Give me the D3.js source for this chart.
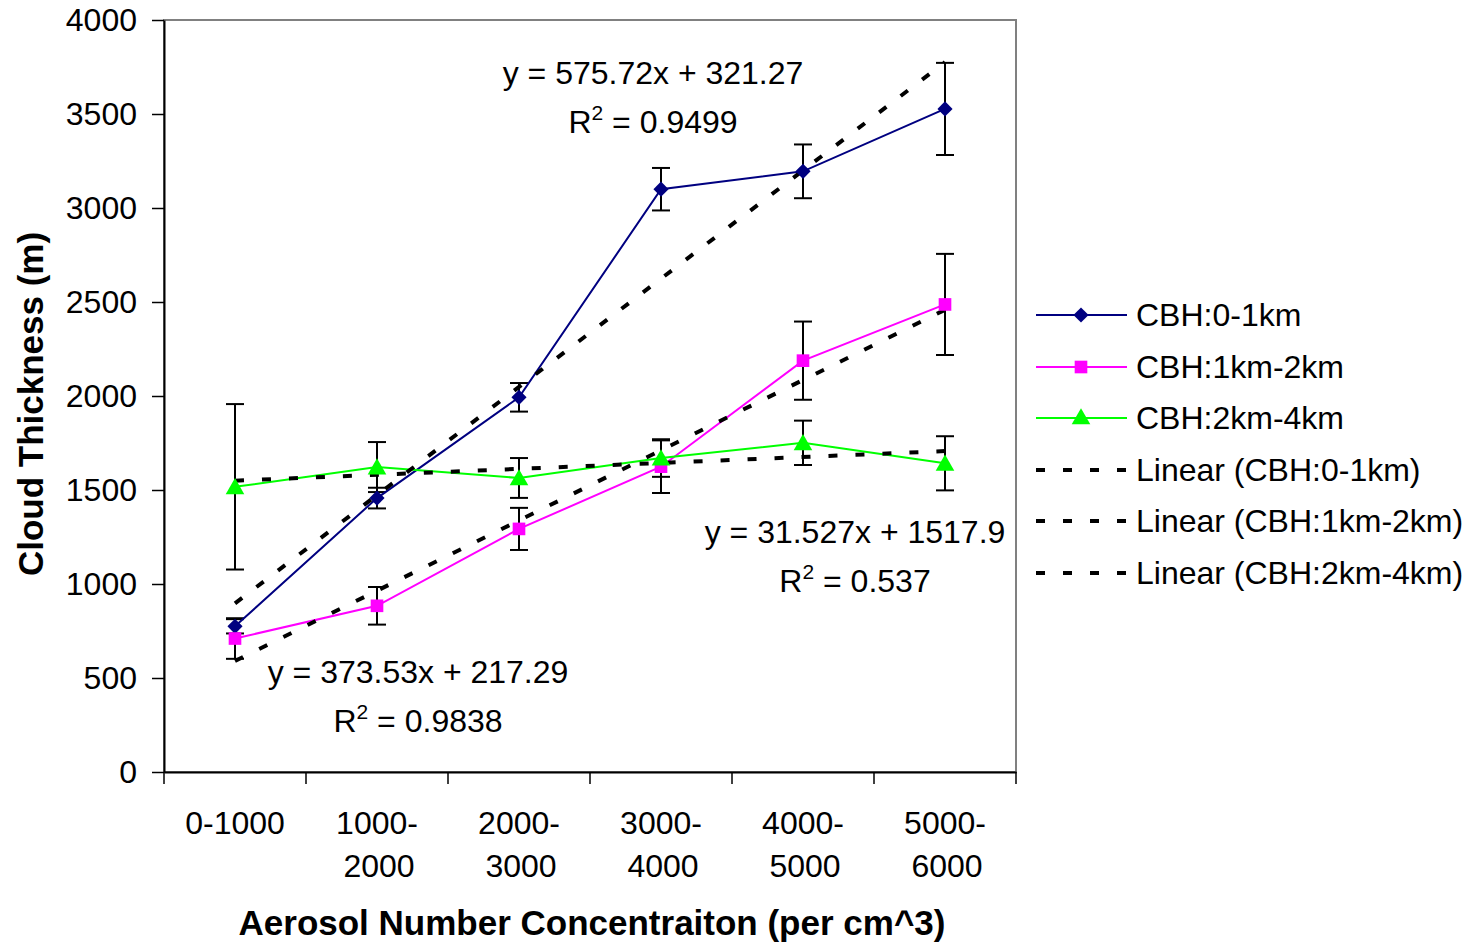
<!DOCTYPE html>
<html>
<head>
<meta charset="utf-8">
<script src="https://cdn.jsdelivr.net/npm/d3@7"></script>
<style>
  html, body { margin: 0; padding: 0; background: #fff; }
  svg { display: block; font-family: "Liberation Sans", Arial, sans-serif; }
</style>
</head>
<body>
<svg id="chart" width="1484" height="943"></svg>
<script>
// ---- data ----
const categories = ["0-1000", "1000-2000", "2000-3000", "3000-4000", "4000-5000", "5000-6000"];
const categoryLines = [["0-1000"], ["1000-", "2000"], ["2000-", "3000"], ["3000-", "4000"], ["4000-", "5000"], ["5000-", "6000"]];
const seriesNames = ["CBH:0-1km", "CBH:1km-2km", "CBH:2km-4km"];
const cbh0to1 = [775, 1457, 1993, 3100, 3195, 3527];
const cbh0to1Err = [38, 55, 76, 113, 143, 245];
const cbh1to2 = [710, 884, 1293, 1624, 2188, 2487];
const cbh1to2Err = [108, 100, 112, 140, 208, 269];
const cbh2to4 = [1517, 1622, 1564, 1670, 1751, 1642];
const cbh2to4Err = [440, 133, 106, 100, 118, 144];
const trendSlopes = [575.72, 373.53, 31.527];
const trendIntercepts = [321.27, 217.29, 1517.9];
const trendEquations = ["y = 575.72x + 321.27", "y = 373.53x + 217.29", "y = 31.527x + 1517.9"];
const trendR2 = ["0.9499", "0.9838", "0.537"];
const yTicks = [0, 500, 1000, 1500, 2000, 2500, 3000, 3500, 4000];

const colors = ["#000080", "#FF00FF", "#00FF00"];
const markers = [d3.symbolSquare, d3.symbolSquare, d3.symbolTriangle];
const markerRot = [45, 0, 0];
const markerSizes = [115, 160, 150];
const values = [cbh0to1, cbh1to2, cbh2to4];
const errs = [cbh0to1Err, cbh1to2Err, cbh2to4Err];

// ---- layout ----
const L = 164, R = 1016, T = 20, B = 772;
const svg = d3.select("#chart");

const x = d3.scaleBand().domain(categories).range([L, R]).paddingInner(0).paddingOuter(0);
const xc = c => x(c) + x.bandwidth() / 2;
const xi = i => xc(categories[i]);
const y = d3.scaleLinear().domain([0, 4000]).range([B, T]);

// plot area border
svg.append("rect").attr("x", L).attr("y", T).attr("width", R - L).attr("height", B - T)
  .attr("fill", "none").attr("stroke", "#808080").attr("stroke-width", 2);

// y axis
const yAxis = svg.append("g").attr("transform", `translate(${L},0)`)
  .call(d3.axisLeft(y).tickValues(yTicks).tickFormat(d3.format("d")).tickSize(12).tickSizeOuter(0).tickPadding(15));
yAxis.select(".domain").attr("stroke", "#000").attr("stroke-width", 2);
yAxis.selectAll(".tick line").attr("stroke", "#000").attr("stroke-width", 1.5);
yAxis.selectAll(".tick text").attr("font-size", 32).attr("fill", "#000")
  .attr("font-family", "Liberation Sans, Arial, sans-serif");

// x axis
const xAxis = svg.append("g").attr("transform", `translate(0,${B})`)
  .call(d3.axisBottom(x).tickSize(0).tickFormat(""));
xAxis.select(".domain").attr("stroke", "#000").attr("stroke-width", 2);
const bounds = categories.map(c => x(c)).concat([R]);
svg.append("g").selectAll("line").data(bounds).join("line")
  .attr("x1", d => d).attr("x2", d => d).attr("y1", B).attr("y2", B + 12)
  .attr("stroke", "#000").attr("stroke-width", 1.5);
const xl = svg.append("g").attr("font-size", 32).attr("fill", "#000").attr("text-anchor", "middle");
categoryLines.forEach((lines, i) => {
  lines.forEach((t, j) => {
    xl.append("text").attr("x", xc(categories[i]) + (j === 1 ? 2 : 0)).attr("y", 834 + j * 43).text(t);
  });
});

// axis titles
svg.append("text").attr("x", 592).attr("y", 935).attr("text-anchor", "middle")
  .attr("font-size", 35).attr("font-weight", "bold").text("Aerosol Number Concentraiton (per cm^3)");
svg.append("text").attr("transform", "translate(43,404) rotate(-90)").attr("text-anchor", "middle")
  .attr("font-size", 35).attr("font-weight", "bold").text("Cloud Thickness (m)");

// error bars
values.forEach((vals, s) => {
  const g = svg.append("g").attr("stroke", "#000").attr("stroke-width", 2);
  vals.forEach((v, i) => {
    const cx = xc(categories[i]);
    const e = errs[s][i];
    g.append("line").attr("x1", cx).attr("x2", cx).attr("y1", y(v - e)).attr("y2", y(v + e));
    g.append("line").attr("x1", cx - 9).attr("x2", cx + 9).attr("y1", y(v - e)).attr("y2", y(v - e));
    g.append("line").attr("x1", cx - 9).attr("x2", cx + 9).attr("y1", y(v + e)).attr("y2", y(v + e));
  });
});

// series lines
const line = d3.line().x((d, i) => xc(categories[i])).y(d => y(d));
values.forEach((vals, s) => {
  svg.append("path").datum(vals).attr("d", line).attr("fill", "none")
    .attr("stroke", colors[s]).attr("stroke-width", 2);
});

// trendlines
trendSlopes.forEach((m, s) => {
  const b = trendIntercepts[s];
  const x1 = 1, x2 = categories.length;
  svg.append("line")
    .attr("x1", xi(x1 - 1)).attr("y1", y(m * x1 + b))
    .attr("x2", xi(x2 - 1)).attr("y2", y(m * x2 + b))
    .attr("stroke", "#000").attr("stroke-width", 4).attr("stroke-dasharray", "9,18");
});

// markers
values.forEach((vals, s) => {
  svg.append("g").selectAll("path").data(vals).join("path")
    .attr("transform", (d, i) => `translate(${xc(categories[i])},${y(d) + (s === 2 ? 2 : 0)}) rotate(${markerRot[s]})`)
    .attr("d", d3.symbol().type(markers[s]).size(markerSizes[s]))
    .attr("fill", colors[s]);
});

// trend labels
const labelPos = [[653, 84, 133], [418, 683, 732], [855, 543, 592]];
trendEquations.forEach((eq, s) => {
  const [cx, y1, y2] = labelPos[s];
  svg.append("text").attr("x", cx).attr("y", y1).attr("text-anchor", "middle")
    .attr("font-size", 32).text(eq);
  const t = svg.append("text").attr("x", cx).attr("y", y2).attr("text-anchor", "middle").attr("font-size", 32);
  t.append("tspan").text("R");
  t.append("tspan").attr("font-size", 21).attr("dy", -13).text("2");
  t.append("tspan").attr("dy", 13).text(" = " + trendR2[s]);
});

// legend
const legendY = [315, 367, 418, 470, 521, 573];
const legendLabels = seriesNames.concat(seriesNames.map(n => `Linear (${n})`));
const lg = svg.append("g");
legendLabels.forEach((lab, k) => {
  const ly = legendY[k];
  if (k < 3) {
    lg.append("line").attr("x1", 1036).attr("x2", 1127).attr("y1", ly).attr("y2", ly)
      .attr("stroke", colors[k]).attr("stroke-width", 2);
    lg.append("path").attr("transform", `translate(1081,${ly + (k === 2 ? 1 : 0)}) rotate(${markerRot[k]})`)
      .attr("d", d3.symbol().type(markers[k]).size(markerSizes[k])).attr("fill", colors[k]);
  } else {
    lg.append("line").attr("x1", 1036).attr("x2", 1127).attr("y1", ly).attr("y2", ly)
      .attr("stroke", "#000").attr("stroke-width", 4).attr("stroke-dasharray", "9,18");
  }
  lg.append("text").attr("x", 1136).attr("y", ly + 11).attr("font-size", 32).text(lab);
});
</script>
</body>
</html>
